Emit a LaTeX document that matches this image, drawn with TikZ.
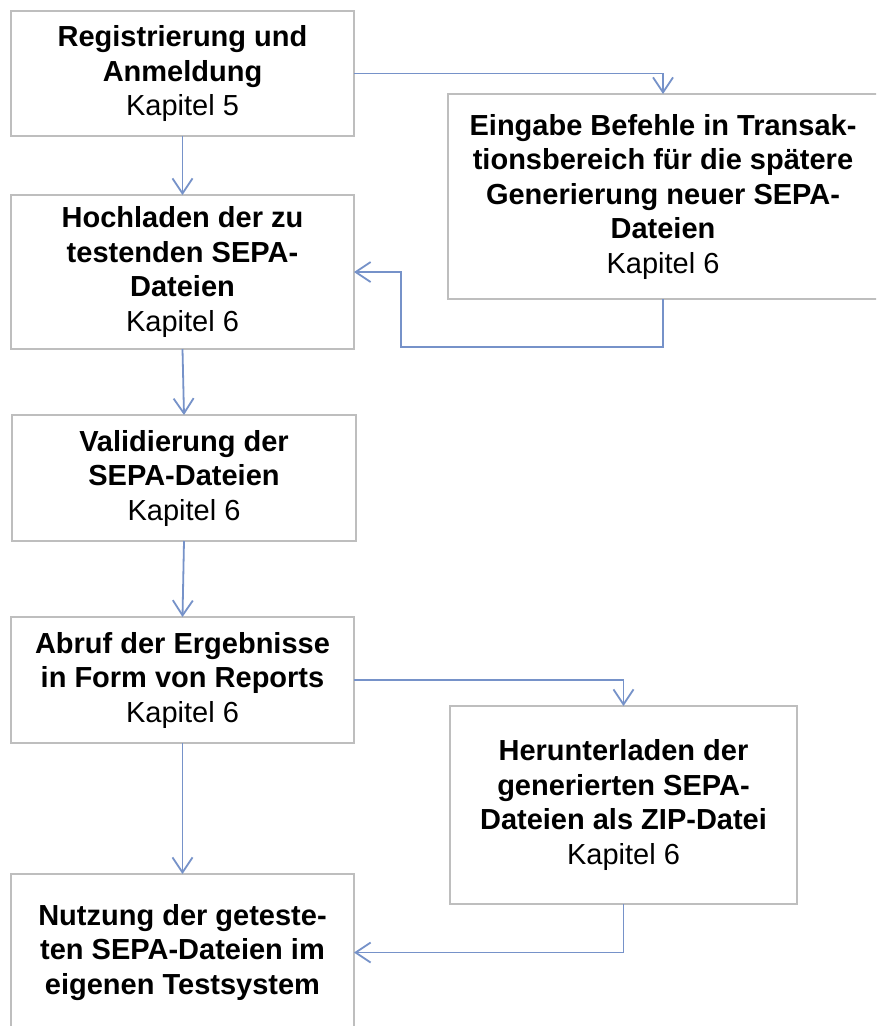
\documentclass[tikz,border=0pt]{standalone}
\usepackage{fontspec}
\setmainfont{Liberation Sans}
\usetikzlibrary{arrows.meta}
\definecolor{boxgray}{RGB}{190,190,190}
\definecolor{arrowblue}{RGB}{118,146,201}
\tikzset{
  box/.style={draw=boxgray, line width=2.2pt, fill=white, inner sep=0pt, outer sep=0pt,
    align=center, font=\fontsize{29}{34.5}\selectfont, text=black},
  conn/.style={draw=arrowblue, line width=1.8pt,
    -{Straight Barb[length=15pt,width=20pt,line width=1.8pt]}},
}
\newcommand{\kap}[1]{\mdseries Kapitel #1}
\begin{document}
\begin{tikzpicture}[x=1pt,y=-1pt]
\clip (0,0) rectangle (876,1026);
\useasboundingbox (0,0) rectangle (876,1026);
\fill[white] (0,0) rectangle (876,1026);

\node[box, minimum width=343pt, minimum height=125pt] (b1) at (182.5,73.5)
  {\bfseries Registrierung und\\ \bfseries Anmeldung\\ \kap{5}};
\node[box, minimum width=430pt, minimum height=205pt] (b2) at (663,196.5)
  {\bfseries Eingabe Befehle in Transak-\\ \bfseries tionsbereich für die spätere\\ \bfseries Generierung neuer SEPA-\\ \bfseries Dateien\\ \kap{6}};
\node[box, minimum width=343pt, minimum height=154pt] (b3) at (182.5,272)
  {\bfseries Hochladen der zu\\ \bfseries testenden SEPA-\\ \bfseries Dateien\\ \kap{6}};
\node[box, minimum width=344pt, minimum height=126pt] (b4) at (184,478)
  {\bfseries Validierung der\\ \bfseries SEPA-Dateien\\ \kap{6}};
\node[box, minimum width=343pt, minimum height=126pt] (b5) at (182.5,680)
  {\bfseries Abruf der Ergebnisse\\ \bfseries in Form von Reports\\ \kap{6}};
\node[box, minimum width=347pt, minimum height=198pt] (b6) at (623.5,805)
  {\bfseries Herunterladen der\\ \bfseries generierten SEPA-\\ \bfseries Dateien als ZIP-Datei\\ \kap{6}};
\node[box, minimum width=343pt, minimum height=157pt] (b7) at (182.5,952.5)
  {\bfseries Nutzung der geteste-\\ \bfseries ten SEPA-Dateien im\\ \bfseries eigenen Testsystem};

\coordinate (c1) at (401,347);

\draw[conn] (b1.east) -| (b2.north);
\draw[conn] (b1.south) -- (b3.north);
\draw[conn] (b2.south) |- (c1) |- (b3.east);
\draw[conn] (b3.south) -- (b4.north);
\draw[conn] (b4.south) -- (b5.north);
\draw[conn] (b5.east) -| (b6.north);
\draw[conn] (b5.south) -- (b7.north);
\draw[conn] (b6.south) |- (b7.east);
\end{tikzpicture}
\end{document}
